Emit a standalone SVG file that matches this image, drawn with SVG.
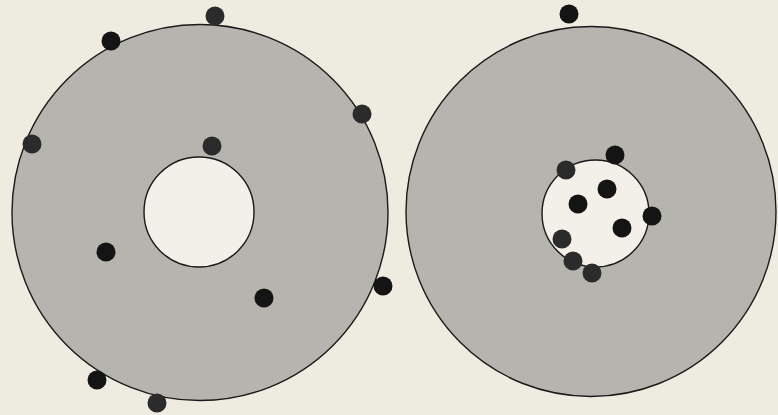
<svg xmlns="http://www.w3.org/2000/svg" width="778" height="415" viewBox="0 0 778 415">
<style>
.disk{fill:#b6b4ae;stroke:#1a1a1a;stroke-width:1.4}
.hole{fill:#f2f0e8;stroke:#1a1a1a;stroke-width:1.4}
.dot{fill:#141414}
.dot2{fill:#2b2b2b}
</style>
<rect width="778" height="415" fill="#eeebe1"/>
<g id="left-disk">
<circle class="disk" cx="200" cy="212.5" r="188"/>
<circle class="hole" cx="199" cy="212" r="55"/>
</g>
<g id="left-dots">
<circle class="dot2" cx="215" cy="16" r="9.5"/>
<circle class="dot" cx="111" cy="41" r="9.5"/>
<circle class="dot2" cx="362" cy="114" r="9.5"/>
<circle class="dot2" cx="32" cy="144" r="9.5"/>
<circle class="dot2" cx="212" cy="146" r="9.5"/>
<circle class="dot" cx="106" cy="252" r="9.5"/>
<circle class="dot" cx="383" cy="286" r="9.5"/>
<circle class="dot" cx="264" cy="298" r="9.5"/>
<circle class="dot" cx="97" cy="380" r="9.5"/>
<circle class="dot2" cx="157" cy="403" r="9.5"/>
</g>
<g id="right-disk">
<circle class="disk" cx="591" cy="211.5" r="185"/>
<circle class="hole" cx="595.5" cy="213.5" r="53.5"/>
</g>
<g id="right-dots">
<circle class="dot" cx="569" cy="14" r="9.5"/>
<circle class="dot" cx="615" cy="155" r="9.5"/>
<circle class="dot2" cx="566" cy="170" r="9.5"/>
<circle class="dot" cx="607" cy="189" r="9.5"/>
<circle class="dot" cx="578" cy="204" r="9.5"/>
<circle class="dot" cx="652" cy="216" r="9.5"/>
<circle class="dot" cx="622" cy="228" r="9.5"/>
<circle class="dot2" cx="562" cy="239" r="9.5"/>
<circle class="dot2" cx="573" cy="261" r="9.5"/>
<circle class="dot2" cx="592" cy="273" r="9.5"/>
</g>
</svg>
